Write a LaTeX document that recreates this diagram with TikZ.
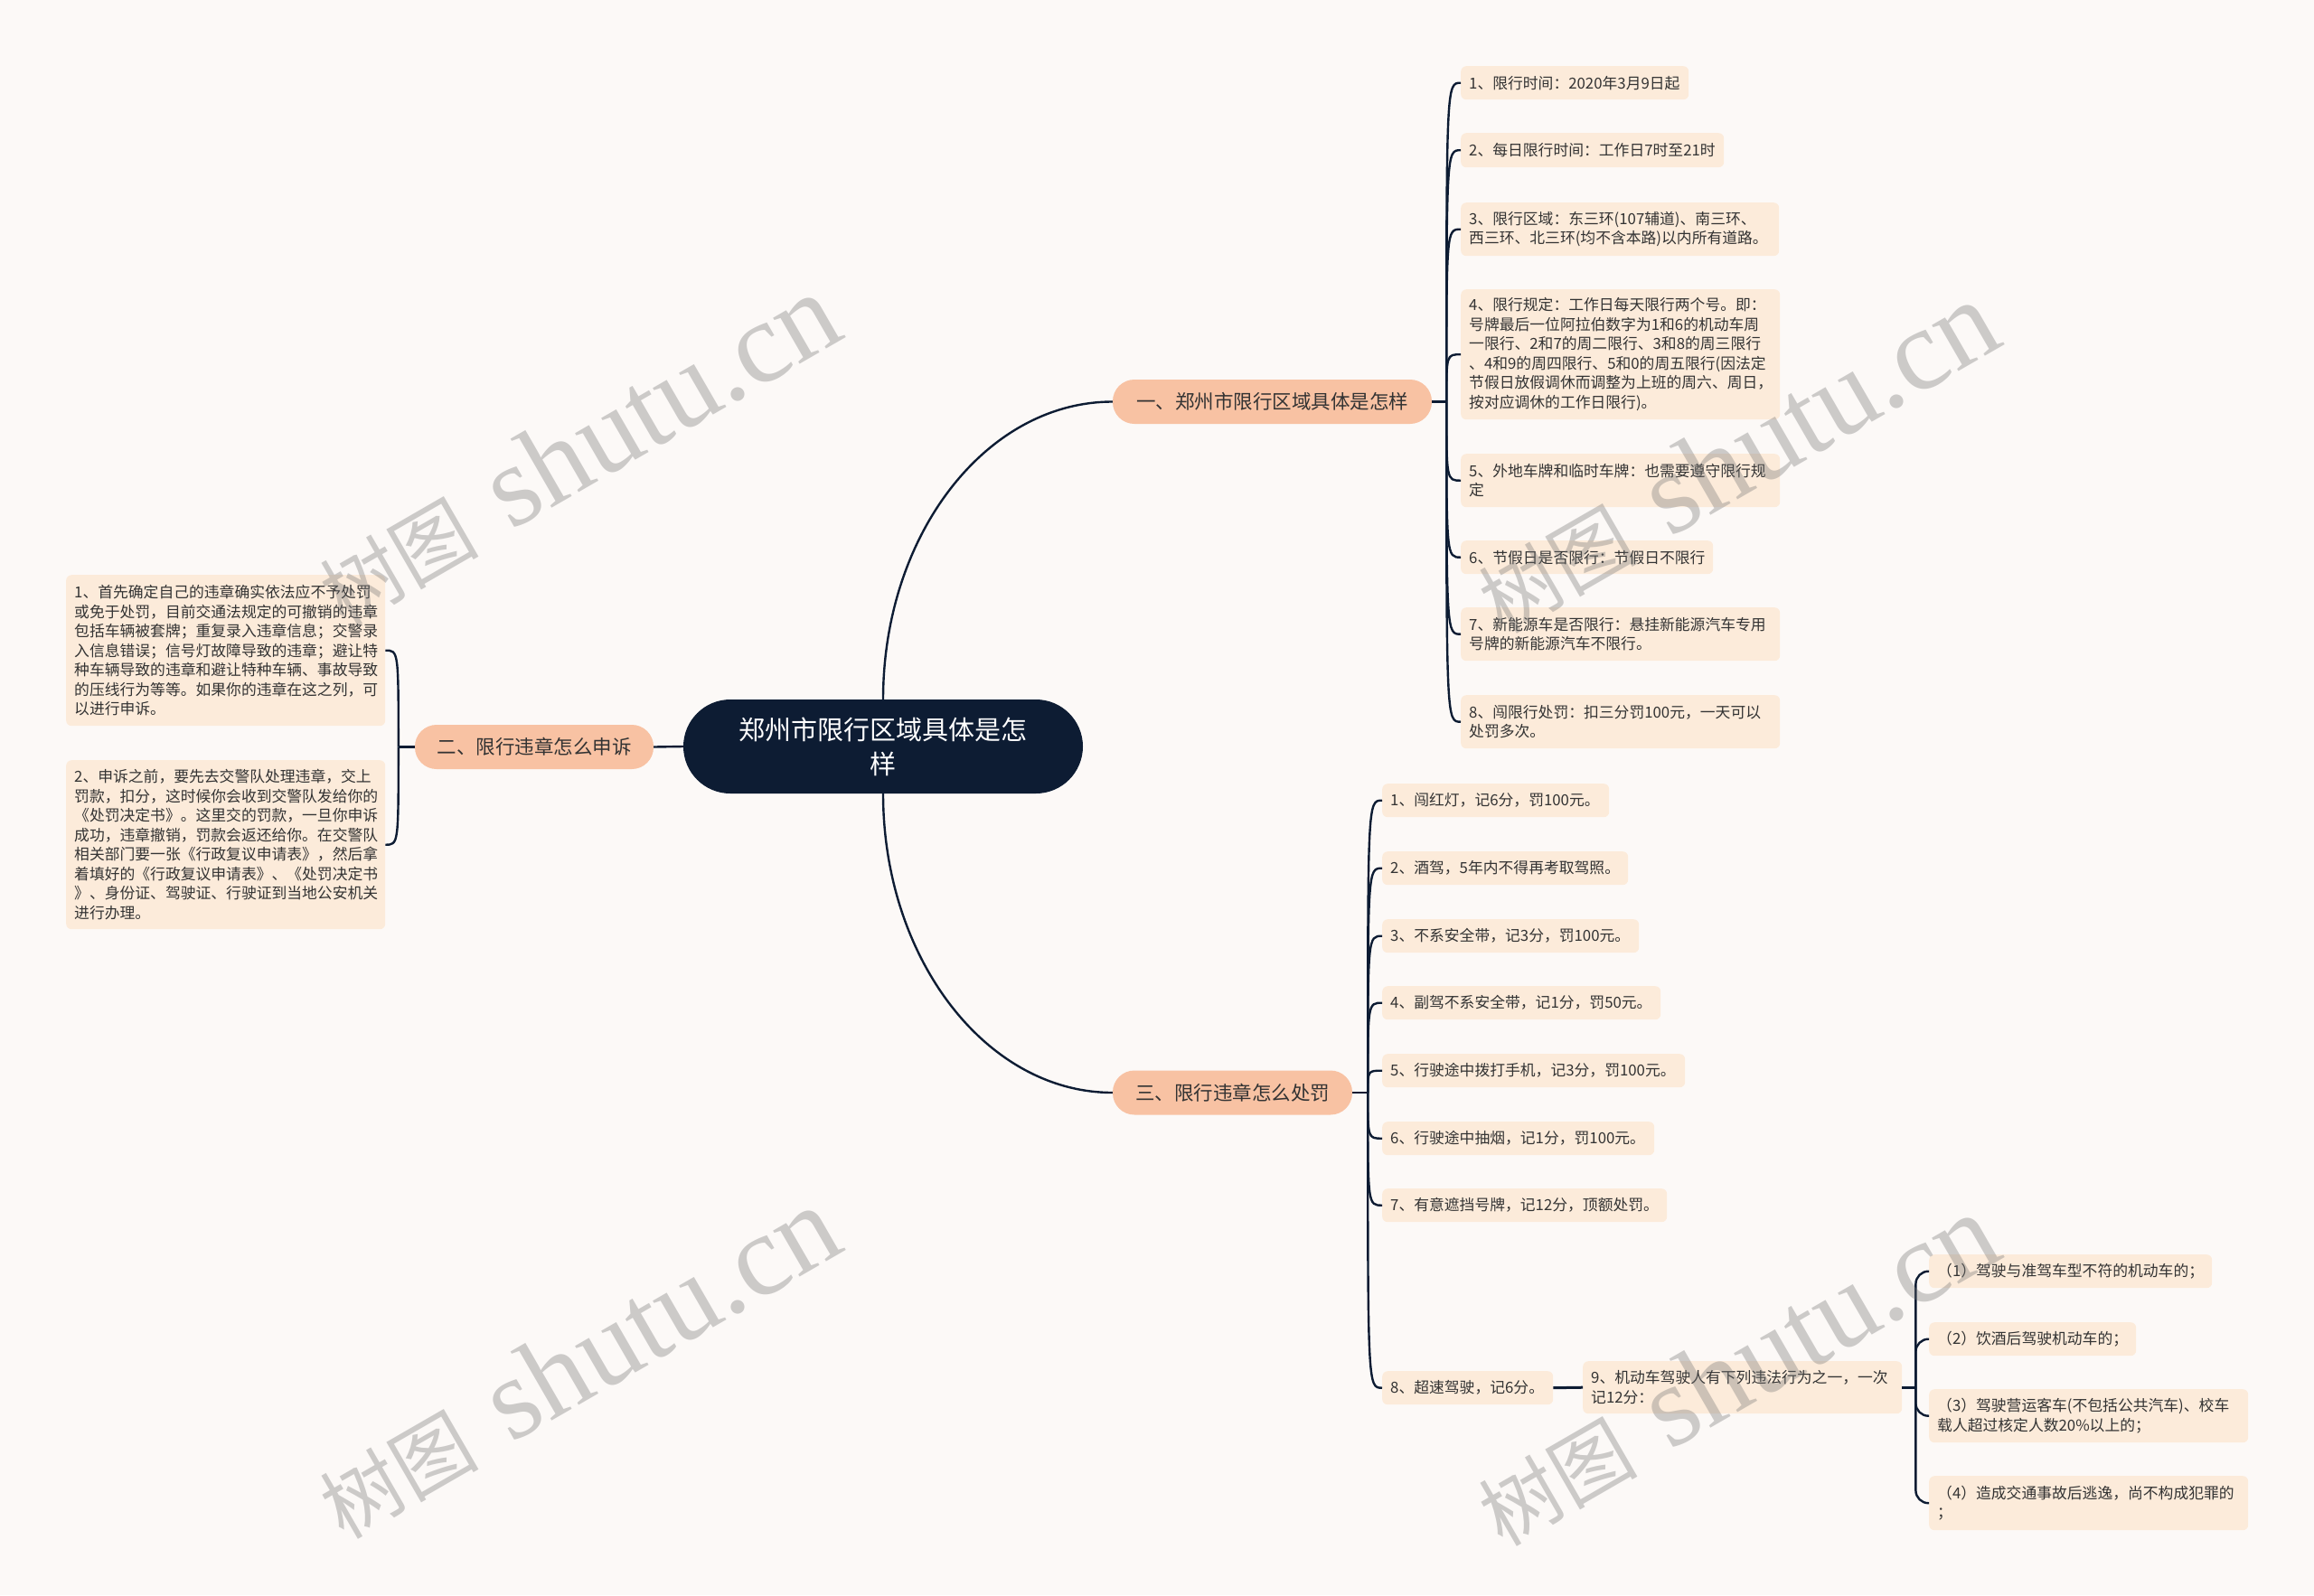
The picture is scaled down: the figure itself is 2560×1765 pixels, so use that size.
\documentclass[tikz,border=0pt]{standalone}
\usepackage{fontspec}
\setmainfont{Noto Sans CJK SC}
\newfontfamily\wmlatin{Liberation Serif}
\usetikzlibrary{calc}
\definecolor{bgc}{HTML}{FCF9F7}
\definecolor{leafc}{HTML}{FCEBDA}
\definecolor{branchc}{HTML}{F8C2A3}
\definecolor{centralc}{HTML}{0D1C33}
\definecolor{linec}{HTML}{0D1C33}
\definecolor{txtc}{HTML}{333333}
\tikzset{
  leaf/.style={fill=leafc, rounded corners=6pt, inner xsep=9pt, inner ysep=0pt, align=left, anchor=north west, text=txtc, font=\fontsize{16.8pt}{21.5pt}\selectfont},
  branch/.style={fill=branchc, rounded corners=24pt, inner sep=0pt, text=txtc, font=\fontsize{21.5pt}{26pt}\selectfont, minimum height=49pt},
  central/.style={fill=centralc, text=white, rounded corners=52pt, minimum width=442pt, minimum height=104pt, align=center, font=\fontsize{29pt}{38pt}\selectfont},
  conn/.style={draw=linec, line width=2.4pt},
  wm/.style={rotate=30, anchor=base west, inner sep=0pt, text=black!55, text opacity=0.35}
}
\newcommand\hookto[2]{\draw[conn] (#1) .. controls (#1 |- #2.west) and (#1 |- #2.west) .. (#2.west);}
\newcommand\hookback[2]{\draw[conn] (#1) .. controls (#1 |- #2.east) and (#1 |- #2.east) .. (#2.east);}
\newcommand\wmtext{{\fontsize{88pt}{90pt}\selectfont 树图}\hspace{38pt}{\wmlatin\fontsize{128pt}{130pt}\selectfont shutu.cn}}
\begin{document}
\begin{tikzpicture}[x=1pt, y=-1pt]
\path[use as bounding box, fill=bgc] (0,0) rectangle (2560,1765);

% central and branches
\node[central] (c) at (977,826) {郑州市限行区域具体是怎\\样};
\node[branch, minimum width=353pt] (b1) at (1407.5,444.5) {一、郑州市限行区域具体是怎样};
\node[branch, minimum width=264pt] (b2) at (591,826.5) {二、限行违章怎么申诉};
\node[branch, minimum width=265pt] (b3) at (1363.5,1209) {三、限行违章怎么处罚};

% branch 1 leaves
\node[leaf, text width=234pt, minimum height=37pt] (l1) at (1616,73) {1、限行时间：2020年3月9日起};
\node[leaf, text width=273pt, minimum height=38pt] (l2) at (1616,147) {2、每日限行时间：工作日7时至21时};
\node[leaf, text width=334pt, minimum height=59pt] (l3) at (1616,224) {3、限行区域：东三环(107辅道)、南三环、\\西三环、北三环(均不含本路)以内所有道路。};
\node[leaf, text width=335pt, minimum height=144pt] (l4) at (1616,320) {4、限行规定：工作日每天限行两个号。即：\\号牌最后一位阿拉伯数字为1和6的机动车周\\一限行、2和7的周二限行、3和8的周三限行\\、4和9的周四限行、5和0的周五限行(因法定\\节假日放假调休而调整为上班的周六、周日，\\按对应调休的工作日限行)。};
\node[leaf, text width=335pt, minimum height=59pt] (l5) at (1616,502) {5、外地车牌和临时车牌：也需要遵守限行规\\定};
\node[leaf, text width=261pt, minimum height=37pt] (l6) at (1616,598) {6、节假日是否限行：节假日不限行};
\node[leaf, text width=335pt, minimum height=59pt] (l7) at (1616,672) {7、新能源车是否限行：悬挂新能源汽车专用\\号牌的新能源汽车不限行。};
\node[leaf, text width=335pt, minimum height=59pt] (l8) at (1616,769) {8、闯限行处罚：扣三分罚100元，一天可以\\处罚多次。};

% branch 2 leaves
\node[leaf, text width=335pt, minimum height=167pt] (p1) at (73,636) {1、首先确定自己的违章确实依法应不予处罚\\或免于处罚，目前交通法规定的可撤销的违章\\包括车辆被套牌；重复录入违章信息；交警录\\入信息错误；信号灯故障导致的违章；避让特\\种车辆导致的违章和避让特种车辆、事故导致\\的压线行为等等。如果你的违章在这之列，可\\以进行申诉。};
\node[leaf, text width=335pt, minimum height=187pt] (p2) at (73,841) {2、申诉之前，要先去交警队处理违章，交上\\罚款，扣分，这时候你会收到交警队发给你的\\《处罚决定书》。这里交的罚款，一旦你申诉\\成功，违章撤销，罚款会返还给你。在交警队\\相关部门要一张《行政复议申请表》，然后拿\\着填好的《行政复议申请表》、《处罚决定书\\》、身份证、驾驶证、行驶证到当地公安机关\\进行办理。};

% branch 3 leaves
\node[leaf, text width=233pt, minimum height=37pt] (m1) at (1529,867) {1、闯红灯，记6分，罚100元。};
\node[leaf, text width=254pt, minimum height=37pt] (m2) at (1529,942) {2、酒驾，5年内不得再考取驾照。};
\node[leaf, text width=266pt, minimum height=37pt] (m3) at (1529,1017) {3、不系安全带，记3分，罚100元。};
\node[leaf, text width=290pt, minimum height=37pt] (m4) at (1529,1091) {4、副驾不系安全带，记1分，罚50元。};
\node[leaf, text width=317pt, minimum height=37pt] (m5) at (1529,1166) {5、行驶途中拨打手机，记3分，罚100元。};
\node[leaf, text width=283pt, minimum height=37pt] (m6) at (1529,1241) {6、行驶途中抽烟，记1分，罚100元。};
\node[leaf, text width=297pt, minimum height=37pt] (m7) at (1529,1315) {7、有意遮挡号牌，记12分，顶额处罚。};
\node[leaf, text width=171pt, minimum height=37pt] (m8) at (1529,1517) {8、超速驾驶，记6分。};
\node[leaf, text width=335pt, minimum height=58pt] (n9) at (1751,1506) {9、机动车驾驶人有下列违法行为之一，一次\\记12分：};
\node[leaf, text width=295pt, minimum height=37pt] (s1) at (2134,1388) {（1）驾驶与准驾车型不符的机动车的；};
\node[leaf, text width=211pt, minimum height=37pt] (s2) at (2134,1463) {（2）饮酒后驾驶机动车的；};
\node[leaf, text width=335pt, minimum height=59pt] (s3) at (2134,1537) {（3）驾驶营运客车(不包括公共汽车)、校车\\载人超过核定人数20\%以上的；};
\node[leaf, text width=335pt, minimum height=60pt] (s4) at (2134,1633) {（4）造成交通事故后逃逸，尚不构成犯罪的\\；};

% connectors: central to branches
\draw[conn] (c.north) .. controls +(0,-182) and +(-140,0) .. (b1.west);
\draw[conn] (c.south) .. controls +(0,182) and +(-140,0) .. (b3.west);
\draw[conn] (c.west) -- (b2.east);

% branch 1
\coordinate (j1) at ([xshift=16pt]b1.east);
\draw[conn] (b1.east) -- (j1);
\foreach \n in {l1,l2,l3,l4,l5,l6,l7,l8} {\hookto{j1}{\n}}

% branch 2
\coordinate (j2) at ([xshift=-18pt]b2.west);
\draw[conn] (b2.west) -- (j2);
\hookback{j2}{p1}
\hookback{j2}{p2}

% branch 3
\coordinate (j3) at ([xshift=17pt]b3.east);
\draw[conn] (b3.east) -- (j3);
\foreach \n in {m1,m2,m3,m4,m5,m6,m7,m8} {\hookto{j3}{\n}}

% item 8 -> 9 -> sub-items
\draw[conn, line width=3pt] (m8.east) -- (n9.west);
\coordinate (j9) at ([xshift=15pt]n9.east);
\draw[conn, line width=3pt] (n9.east) -- (j9);
\foreach \n in {s1,s2,s3,s4} {\draw[conn, rounded corners=14pt] (j9) |- (\n.west);}

% watermarks
\node[wm] (wm1) at (380,695) {\wmtext};
\node[wm] (wm2) at (1662,703) {\wmtext};
\node[wm] (wm3) at (380,1705) {\wmtext};
\node[wm] (wm4) at (1662,1713) {\wmtext};
\end{tikzpicture}
\end{document}
